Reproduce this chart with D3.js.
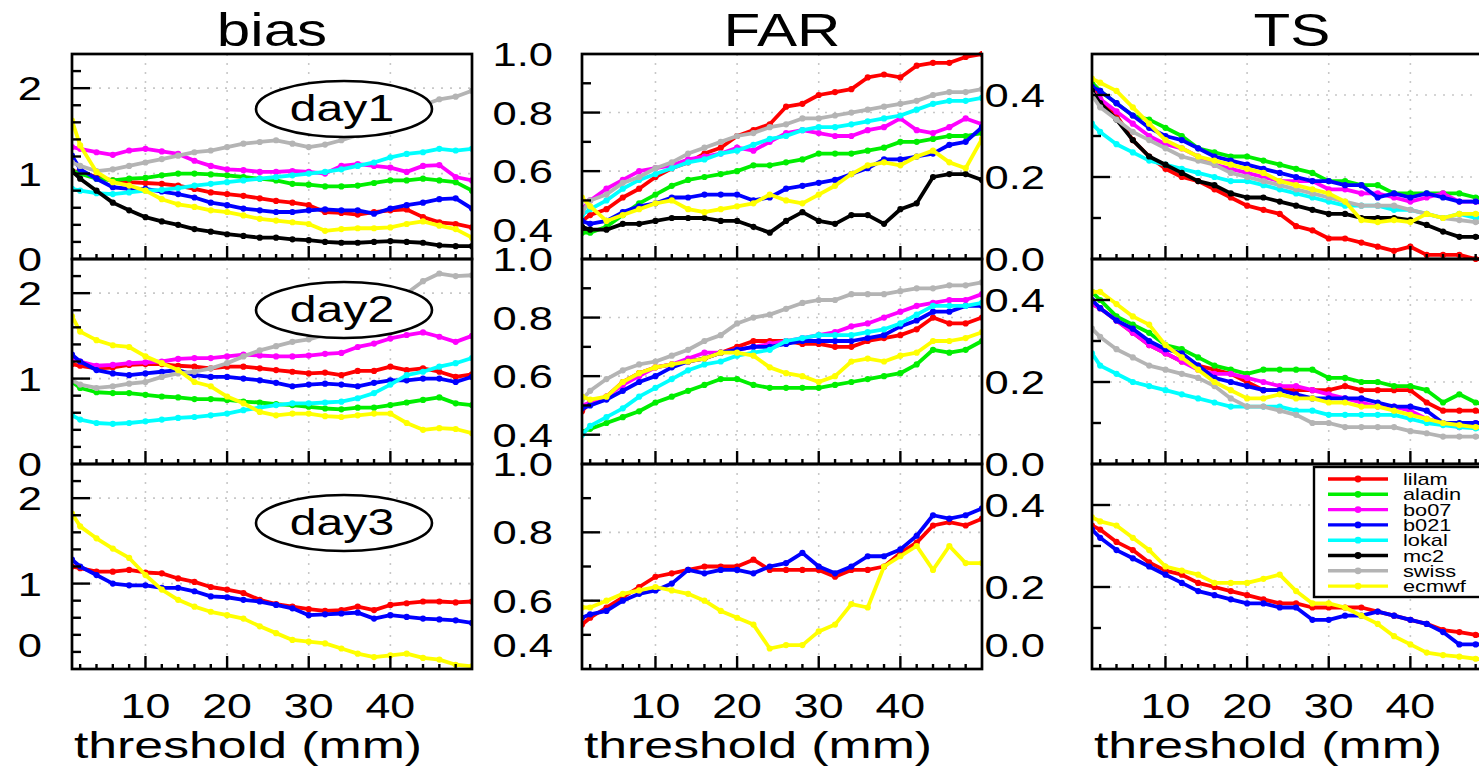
<!DOCTYPE html>
<html>
<head>
<meta charset="utf-8">
<script src="https://cdn.jsdelivr.net/npm/d3@7"></script>
<style>
  body { margin: 0; background: #fff; }
  svg { display: block; }
  text { font-family: "Liberation Sans", Arial, Helvetica, sans-serif; fill: #000; }
</style>
</head>
<body>
<svg id="chart" width="1479" height="770"></svg>
<script>
// Precipitation thresholds (mm) at which the scores are evaluated
const thresholds = [1, 2, 4, 6, 8, 10, 12, 14, 16, 18, 20, 22, 24, 26, 28, 30, 32, 34, 36, 38, 40, 42, 44, 46, 48, 50];

const models = ["lilam", "aladin", "bo07", "b021", "lokal", "mc2", "swiss", "ecmwf"];
const modelColors = ["#ff0000", "#00ee00", "#ff00ff", "#0000ff", "#00ffff", "#000000", "#b4b4b4", "#ffff00"];

const scoreNames = ["bias", "FAR", "TS"];
const dayNames = ["day1", "day2", "day3"];
const xTickLabels = [10, 20, 30, 40];
const biasTickLabels = [0, 1, 2];
const farTickLabels = [0.4, 0.6, 0.8, 1.0];
const tsTickLabels = [0.0, 0.2, 0.4];

// ---- bias ----
const biasDay1 = {
  lilam:  [1.03,1.02,0.96,0.92,0.90,0.89,0.88,0.86,0.82,0.78,0.76,0.74,0.71,0.68,0.66,0.63,0.55,0.54,0.52,0.55,0.57,0.58,0.49,0.43,0.41,0.37],
  aladin: [1.03,1.00,0.94,0.92,0.94,0.95,0.98,1.00,1.00,0.99,0.98,0.96,0.94,0.92,0.88,0.87,0.85,0.85,0.86,0.89,0.92,0.92,0.94,0.92,0.90,0.80],
  bo07:   [1.31,1.29,1.25,1.22,1.27,1.29,1.26,1.23,1.15,1.09,1.05,1.04,1.02,1.02,1.03,1.02,1.00,1.09,1.11,1.09,1.07,1.02,1.09,1.10,0.96,0.92],
  b021:   [1.21,1.05,0.94,0.84,0.82,0.82,0.79,0.76,0.72,0.66,0.63,0.59,0.57,0.55,0.55,0.57,0.58,0.57,0.57,0.53,0.59,0.63,0.66,0.70,0.71,0.59],
  lokal:  [0.82,0.80,0.77,0.76,0.78,0.80,0.81,0.83,0.86,0.88,0.90,0.92,0.94,0.96,0.98,1.00,1.02,1.05,1.09,1.13,1.19,1.23,1.25,1.29,1.27,1.29],
  mc2:    [1.03,0.94,0.80,0.66,0.57,0.49,0.44,0.40,0.35,0.32,0.29,0.27,0.25,0.25,0.23,0.22,0.20,0.19,0.19,0.20,0.21,0.20,0.19,0.16,0.15,0.15],
  swiss:  [1.13,1.09,1.03,1.05,1.09,1.13,1.17,1.21,1.25,1.27,1.31,1.35,1.37,1.39,1.35,1.31,1.34,1.39,1.45,1.52,1.60,1.70,1.80,1.87,1.90,1.97],
  ecmwf:  [1.62,1.33,1.02,0.90,0.86,0.80,0.70,0.64,0.61,0.57,0.55,0.51,0.47,0.45,0.43,0.41,0.33,0.35,0.36,0.36,0.37,0.41,0.44,0.39,0.35,0.25]
};
const biasDay2 = {
  lilam:  [1.17,1.15,1.12,1.13,1.16,1.17,1.17,1.15,1.14,1.12,1.14,1.14,1.12,1.10,1.08,1.06,1.07,1.04,1.09,1.09,1.14,1.10,1.12,1.08,1.02,1.05],
  aladin: [0.96,0.89,0.84,0.83,0.83,0.81,0.79,0.78,0.76,0.76,0.75,0.73,0.72,0.70,0.69,0.67,0.65,0.64,0.66,0.66,0.69,0.72,0.75,0.78,0.71,0.69],
  bo07:   [1.24,1.20,1.15,1.16,1.18,1.19,1.20,1.23,1.24,1.24,1.26,1.28,1.27,1.26,1.26,1.27,1.29,1.30,1.37,1.41,1.47,1.51,1.54,1.49,1.43,1.50],
  b021:   [1.28,1.20,1.10,1.06,1.04,1.06,1.08,1.10,1.04,1.02,1.02,1.00,0.98,0.95,0.91,0.93,0.94,0.93,0.91,0.95,0.98,0.98,1.00,1.00,0.96,1.02],
  lokal:  [0.57,0.52,0.48,0.47,0.48,0.50,0.52,0.54,0.55,0.57,0.59,0.63,0.66,0.69,0.71,0.71,0.72,0.73,0.77,0.83,0.93,1.04,1.08,1.14,1.18,1.24],
  swiss:  [0.98,0.93,0.89,0.91,0.94,0.96,1.02,1.06,1.08,1.12,1.18,1.26,1.33,1.38,1.43,1.46,1.51,1.59,1.69,1.77,1.86,2.00,2.14,2.23,2.20,2.21],
  ecmwf:  [1.73,1.55,1.45,1.39,1.37,1.26,1.18,1.10,0.96,0.91,0.79,0.71,0.61,0.57,0.59,0.59,0.56,0.55,0.57,0.59,0.59,0.48,0.40,0.42,0.41,0.36]
};
const biasDay3 = {
  lilam:  [1.20,1.18,1.14,1.14,1.16,1.13,1.12,1.06,1.02,0.96,0.93,0.89,0.81,0.76,0.73,0.70,0.68,0.69,0.73,0.69,0.75,0.77,0.79,0.79,0.78,0.79],
  b021:   [1.28,1.20,1.10,1.00,0.98,0.98,0.95,0.95,0.91,0.85,0.84,0.81,0.79,0.75,0.71,0.63,0.64,0.65,0.66,0.59,0.63,0.61,0.59,0.58,0.57,0.54],
  ecmwf:  [1.82,1.67,1.53,1.41,1.30,1.10,0.93,0.81,0.73,0.67,0.63,0.59,0.50,0.42,0.34,0.32,0.30,0.24,0.18,0.14,0.16,0.18,0.13,0.11,0.05,0.03]
};

// ---- false alarm ratio ----
const farDay1 = {
  lilam:  [0.43,0.45,0.47,0.51,0.54,0.58,0.61,0.63,0.66,0.68,0.72,0.74,0.76,0.82,0.83,0.86,0.87,0.88,0.92,0.93,0.92,0.96,0.97,0.97,0.99,1.00],
  aladin: [0.39,0.39,0.41,0.45,0.49,0.52,0.55,0.57,0.58,0.59,0.60,0.62,0.62,0.63,0.64,0.66,0.66,0.66,0.67,0.68,0.70,0.70,0.71,0.72,0.72,0.73],
  bo07:   [0.47,0.50,0.54,0.57,0.60,0.61,0.62,0.64,0.65,0.66,0.68,0.67,0.70,0.73,0.74,0.73,0.72,0.72,0.74,0.75,0.78,0.74,0.73,0.75,0.78,0.76],
  b021:   [0.43,0.42,0.43,0.46,0.48,0.49,0.51,0.51,0.52,0.52,0.52,0.50,0.51,0.54,0.55,0.56,0.57,0.59,0.61,0.64,0.64,0.65,0.66,0.69,0.70,0.75],
  lokal:  [0.45,0.47,0.50,0.54,0.57,0.59,0.61,0.63,0.64,0.66,0.67,0.69,0.71,0.72,0.74,0.75,0.75,0.76,0.77,0.78,0.79,0.81,0.83,0.84,0.84,0.85],
  mc2:    [0.41,0.40,0.40,0.42,0.42,0.43,0.44,0.44,0.44,0.43,0.43,0.41,0.39,0.43,0.46,0.43,0.42,0.45,0.45,0.42,0.47,0.49,0.58,0.59,0.59,0.57],
  swiss:  [0.46,0.50,0.52,0.56,0.58,0.61,0.63,0.66,0.68,0.70,0.72,0.73,0.75,0.76,0.78,0.78,0.79,0.80,0.81,0.82,0.83,0.84,0.86,0.87,0.87,0.88],
  ecmwf:  [0.51,0.48,0.43,0.45,0.47,0.49,0.50,0.47,0.46,0.47,0.48,0.49,0.52,0.50,0.49,0.52,0.55,0.59,0.62,0.63,0.62,0.65,0.67,0.63,0.61,0.71]
};
const farDay2 = {
  lilam:  [0.48,0.51,0.53,0.58,0.61,0.63,0.64,0.65,0.66,0.68,0.70,0.72,0.72,0.72,0.71,0.71,0.70,0.70,0.72,0.73,0.74,0.76,0.80,0.78,0.78,0.80],
  aladin: [0.41,0.42,0.44,0.46,0.48,0.51,0.53,0.55,0.57,0.59,0.59,0.57,0.56,0.56,0.56,0.56,0.57,0.58,0.59,0.60,0.61,0.64,0.69,0.68,0.69,0.72],
  bo07:   [0.50,0.51,0.53,0.57,0.60,0.63,0.64,0.66,0.68,0.68,0.69,0.70,0.71,0.72,0.73,0.74,0.75,0.77,0.78,0.80,0.82,0.84,0.85,0.86,0.86,0.88],
  b021:   [0.49,0.50,0.52,0.55,0.58,0.60,0.63,0.65,0.66,0.68,0.69,0.70,0.70,0.71,0.72,0.72,0.72,0.72,0.73,0.74,0.77,0.79,0.82,0.82,0.84,0.84],
  lokal:  [0.40,0.43,0.46,0.49,0.53,0.56,0.59,0.62,0.64,0.65,0.67,0.68,0.69,0.72,0.73,0.74,0.74,0.74,0.75,0.76,0.78,0.81,0.84,0.84,0.84,0.85],
  swiss:  [0.52,0.55,0.59,0.62,0.64,0.65,0.67,0.69,0.72,0.74,0.78,0.80,0.81,0.83,0.85,0.86,0.86,0.88,0.88,0.88,0.89,0.90,0.90,0.91,0.91,0.92],
  ecmwf:  [0.53,0.52,0.53,0.58,0.61,0.63,0.64,0.65,0.66,0.68,0.68,0.67,0.63,0.61,0.60,0.58,0.60,0.65,0.66,0.65,0.67,0.68,0.72,0.72,0.73,0.75]
};
const farDay3 = {
  lilam:  [0.53,0.55,0.58,0.61,0.64,0.67,0.68,0.69,0.70,0.70,0.70,0.72,0.69,0.69,0.69,0.69,0.67,0.69,0.69,0.70,0.74,0.77,0.82,0.83,0.82,0.84],
  b021:   [0.55,0.56,0.57,0.60,0.62,0.63,0.65,0.69,0.68,0.69,0.69,0.68,0.70,0.71,0.74,0.70,0.68,0.70,0.73,0.73,0.75,0.79,0.85,0.84,0.85,0.87],
  ecmwf:  [0.58,0.58,0.60,0.62,0.63,0.64,0.63,0.62,0.60,0.57,0.55,0.53,0.46,0.47,0.47,0.51,0.53,0.59,0.58,0.70,0.73,0.76,0.69,0.76,0.71,0.71]
};

// ---- threat score ----
const tsDay1 = {
  lilam:  [0.42,0.39,0.35,0.29,0.25,0.22,0.20,0.19,0.17,0.15,0.13,0.12,0.11,0.08,0.07,0.05,0.05,0.04,0.03,0.02,0.03,0.01,0.01,0.01,0.00,0.00],
  aladin: [0.43,0.41,0.38,0.35,0.34,0.32,0.30,0.27,0.26,0.25,0.25,0.24,0.23,0.22,0.21,0.19,0.19,0.18,0.18,0.16,0.16,0.16,0.16,0.16,0.15,0.145],
  bo07:   [0.41,0.39,0.36,0.33,0.30,0.28,0.27,0.25,0.23,0.22,0.21,0.20,0.19,0.19,0.19,0.17,0.17,0.16,0.16,0.15,0.14,0.15,0.16,0.14,0.14,0.13],
  b021:   [0.42,0.41,0.38,0.35,0.32,0.30,0.29,0.27,0.25,0.24,0.23,0.22,0.21,0.20,0.19,0.19,0.18,0.18,0.15,0.16,0.15,0.16,0.15,0.14,0.14,0.135],
  lokal:  [0.33,0.31,0.28,0.26,0.24,0.23,0.22,0.21,0.20,0.19,0.19,0.18,0.17,0.16,0.15,0.14,0.13,0.13,0.13,0.12,0.12,0.11,0.10,0.11,0.10,0.105],
  mc2:    [0.41,0.38,0.34,0.29,0.25,0.23,0.21,0.19,0.18,0.16,0.15,0.15,0.14,0.13,0.12,0.11,0.11,0.10,0.10,0.10,0.095,0.083,0.067,0.054,0.054,0.054],
  swiss:  [0.40,0.37,0.34,0.31,0.29,0.27,0.25,0.24,0.23,0.21,0.20,0.19,0.18,0.17,0.16,0.15,0.14,0.13,0.13,0.13,0.12,0.11,0.10,0.095,0.09,0.09],
  ecmwf:  [0.44,0.43,0.41,0.37,0.33,0.29,0.27,0.25,0.24,0.23,0.22,0.21,0.19,0.18,0.17,0.16,0.14,0.095,0.09,0.095,0.09,0.11,0.10,0.11,0.11,0.11]
};
const tsDay2 = {
  lilam:  [0.39,0.38,0.35,0.32,0.29,0.27,0.25,0.24,0.23,0.22,0.20,0.18,0.18,0.18,0.18,0.18,0.19,0.18,0.18,0.18,0.18,0.15,0.13,0.13,0.13,0.12],
  aladin: [0.42,0.40,0.36,0.34,0.32,0.29,0.28,0.26,0.24,0.23,0.22,0.23,0.23,0.23,0.23,0.21,0.21,0.20,0.20,0.19,0.19,0.18,0.15,0.17,0.15,0.14],
  bo07:   [0.39,0.38,0.35,0.32,0.29,0.27,0.25,0.23,0.22,0.22,0.21,0.20,0.19,0.19,0.18,0.17,0.16,0.15,0.14,0.14,0.13,0.11,0.10,0.09,0.10,0.10],
  b021:   [0.40,0.38,0.35,0.33,0.30,0.28,0.27,0.24,0.21,0.20,0.19,0.18,0.18,0.17,0.16,0.16,0.16,0.16,0.15,0.14,0.14,0.13,0.10,0.10,0.10,0.10],
  lokal:  [0.27,0.24,0.22,0.20,0.19,0.18,0.17,0.16,0.15,0.14,0.14,0.14,0.14,0.13,0.13,0.12,0.12,0.12,0.12,0.12,0.11,0.10,0.095,0.09,0.087,0.085],
  swiss:  [0.33,0.31,0.28,0.26,0.24,0.23,0.22,0.21,0.19,0.16,0.14,0.14,0.13,0.12,0.10,0.10,0.09,0.09,0.09,0.09,0.08,0.075,0.067,0.067,0.067,0.066],
  ecmwf:  [0.42,0.42,0.39,0.36,0.34,0.29,0.26,0.23,0.20,0.18,0.16,0.16,0.17,0.16,0.16,0.15,0.15,0.14,0.14,0.13,0.12,0.11,0.10,0.095,0.09,0.09]
};
const tsDay3 = {
  lilam:  [0.35,0.34,0.31,0.29,0.26,0.24,0.23,0.21,0.20,0.19,0.18,0.17,0.16,0.16,0.15,0.15,0.15,0.15,0.14,0.13,0.12,0.11,0.095,0.09,0.083,0.08],
  b021:   [0.34,0.32,0.29,0.27,0.25,0.23,0.21,0.19,0.18,0.17,0.16,0.16,0.15,0.15,0.12,0.12,0.13,0.13,0.14,0.13,0.12,0.11,0.09,0.06,0.06,0.06],
  ecmwf:  [0.37,0.36,0.35,0.32,0.29,0.25,0.24,0.23,0.21,0.21,0.21,0.22,0.23,0.19,0.16,0.16,0.15,0.13,0.11,0.08,0.06,0.04,0.034,0.03,0.025,0.02]
};

const scoreData = {
  bias: [biasDay1, biasDay2, biasDay3],
  FAR:  [farDay1, farDay2, farDay3],
  TS:   [tsDay1, tsDay2, tsDay3]
};

// ---- layout ----
const svg = d3.select("#chart");
const panelLeft = { bias: 72, FAR: 582, TS: 1092 };
const panelW = 400;
const rowTop = [54, 259, 464];
const rowH = 205;
const STRETCH = 1.28;   // the lettering of this figure is set wide

const yDomains = {
  bias: [[0, 2.4], [0, 2.4], [0, 2.4]],
  FAR:  [[0.3, 1.0], [0.3, 1.0], [0.4, 1.0]],
  TS:   [[0, 0.5], [0, 0.5], [0, 0.5]]
};
const tickStep = { bias: 0.2, FAR: 0.1, TS: 0.1 };
const majorTicks = { bias: biasTickLabels, FAR: farTickLabels, TS: tsTickLabels };
const labelRight = { bias: 42, FAR: 553, TS: 1045 };
const labelFormat = { bias: d3.format("d"), FAR: d3.format(".1f"), TS: d3.format(".1f") };

function wideText(parent, x, y, str, size, anchor, sx = STRETCH) {
  return parent.append("text")
    .attr("transform", `translate(${x},${y}) scale(${sx},1)`)
    .attr("text-anchor", anchor)
    .attr("font-size", size)
    .text(str);
}

const defs = svg.append("defs");
const isMajor = (v, list) => list.some(m => Math.abs(m - v) < 1e-6);

scoreNames.forEach(score => {
  const left = panelLeft[score];
  const x = d3.scaleLinear().domain([1, 50]).range([left, left + panelW]);

  // column title
  wideText(svg, left + panelW / 2, 46, score, 47, "middle");

  dayNames.forEach((day, r) => {
    const top = rowTop[r];
    const dom = yDomains[score][r];
    const y = d3.scaleLinear().domain(dom).range([top + rowH, top]);
    const g = svg.append("g").attr("class", `${score}-${day}`);

    const clipId = `clip-${score}-${r}`;
    defs.append("clipPath").attr("id", clipId)
      .append("rect").attr("x", left).attr("y", top - 3).attr("width", panelW).attr("height", rowH + 6);

    // dotted grid
    const grid = g.append("g").attr("stroke", "#c8c8c8").attr("stroke-width", 1.6)
      .attr("stroke-dasharray", "2,7");
    grid.selectAll("line.vx").data(xTickLabels).join("line")
      .attr("x1", d => x(d)).attr("x2", d => x(d))
      .attr("y1", top).attr("y2", top + rowH);
    const gridY = majorTicks[score].filter(v => v > dom[0] + 1e-6 && v < dom[1] - 1e-6);
    grid.selectAll("line.hy").data(gridY).join("line")
      .attr("x1", left).attr("x2", left + panelW)
      .attr("y1", d => y(d)).attr("y2", d => y(d));

    // model curves
    const series = scoreData[score][r];
    const line = d3.line().x((d, i) => x(thresholds[i])).y(d => y(d));
    const curves = g.append("g").attr("clip-path", `url(#${clipId})`);
    models.forEach((m, mi) => {
      if (!series[m]) return;
      const vals = series[m];
      curves.append("path").datum(vals)
        .attr("fill", "none").attr("stroke", modelColors[mi])
        .attr("stroke-width", 3.8).attr("stroke-linejoin", "round")
        .attr("d", line);
      curves.append("g").attr("fill", modelColors[mi])
        .selectAll("circle").data(vals).join("circle")
        .attr("cx", (d, i) => x(thresholds[i])).attr("cy", d => y(d)).attr("r", 3.1);
    });

    // forecast-day tag
    if (score === "bias") {
      const cy = top + [55, 51, 59][r];
      const cx = left + 272;
      g.append("ellipse").attr("cx", cx).attr("cy", cy).attr("rx", 88).attr("ry", 28)
        .attr("fill", "#fff").attr("stroke", "#000").attr("stroke-width", 2.6);
      wideText(g, cx - 2, cy + 12, day, 37, "middle", 1.3);
    }

    // frame
    g.append("rect").attr("x", left).attr("y", top).attr("width", panelW).attr("height", rowH)
      .attr("fill", "none").attr("stroke", "#000").attr("stroke-width", 2.7);

    // inward ticks
    const ticks = g.append("g").attr("stroke", "#000").attr("stroke-width", 2.4);
    const xMinor = d3.range(2, 50, 2);
    ticks.selectAll("line.tx").data(xMinor).join("line")
      .attr("x1", d => x(d)).attr("x2", d => x(d))
      .attr("y1", top + rowH).attr("y2", d => top + rowH - (xTickLabels.includes(d) ? 13 : 5));
    const n = Math.round((dom[1] - dom[0]) / tickStep[score]);
    const yVals = d3.range(1, n).map(i => +(dom[0] + i * tickStep[score]).toFixed(3));
    ticks.selectAll("line.ty").data(yVals).join("line")
      .attr("x1", left).attr("x2", d => left + (isMajor(d, majorTicks[score]) ? 18 : 9))
      .attr("y1", d => y(d)).attr("y2", d => y(d));

    // value labels on the left of the row
    const labels = majorTicks[score].filter(v => v >= dom[0] - 1e-6 && v <= dom[1] + 1e-6);
    labels.forEach(v => {
      let yy = y(v);
      if (r === 2 && Math.abs(v - dom[0]) < 1e-6) yy -= 24;   // keep clear of the threshold labels
      wideText(svg, labelRight[score], yy + 12, labelFormat[score](v), 34, "end");
    });
  });

  // threshold axis labels
  xTickLabels.forEach(t => wideText(svg, x(t), 718, String(t), 35, "middle"));
  wideText(svg, left + 176, 758, "threshold (mm)", 37, "middle", 1.4);
});

// legend in the lower TS row
const legend = svg.append("g");
const lx = 1314, ly = 467;
legend.append("rect").attr("x", lx).attr("y", ly).attr("width", 200).attr("height", 130)
  .attr("fill", "#fff").attr("stroke", "#000").attr("stroke-width", 2.4);
models.forEach((m, i) => {
  const yy = ly + 12 + i * 15.3;
  legend.append("line").attr("x1", lx + 14).attr("x2", lx + 74).attr("y1", yy).attr("y2", yy)
    .attr("stroke", modelColors[i]).attr("stroke-width", 3.4);
  legend.append("circle").attr("cx", lx + 44).attr("cy", yy).attr("r", 3.4).attr("fill", modelColors[i]);
  wideText(legend, lx + 89, yy + 6, m, 17, "start");
});
</script>
</body>
</html>
